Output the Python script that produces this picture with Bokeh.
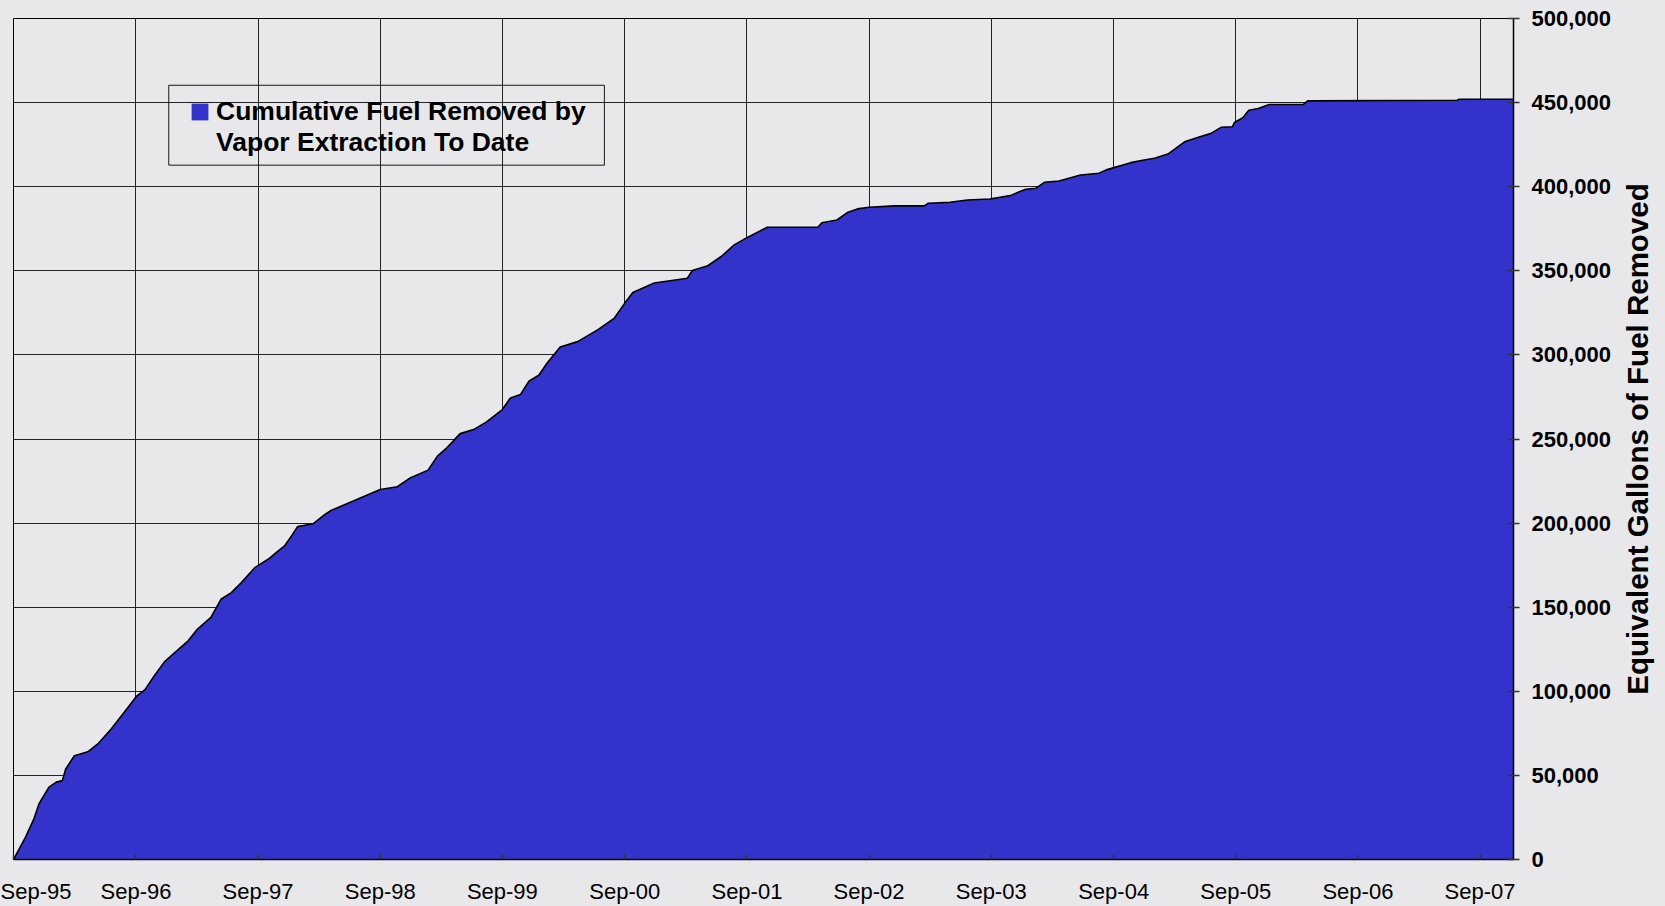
import pandas as pd
from bokeh.plotting import figure
from bokeh.layouts import row
from bokeh.models import (ColumnDataSource, FixedTicker, DatetimeTickFormatter,
                          NumeralTickFormatter, Range1d, Legend, LegendItem,
                          BoxAnnotation)
from bokeh.embed import file_html
from bokeh.resources import INLINE

# ---- data ----
dates = [
    "1995-09-01", "1995-10-07", "1995-11-01", "1995-11-16", "1995-12-16",
    "1996-01-07", "1996-01-25", "1996-02-04", "1996-03-01", "1996-04-10",
    "1996-05-10", "1996-06-19", "1996-07-28", "1996-09-04", "1996-09-28",
    "1996-10-25", "1996-11-25", "1997-01-01", "1997-02-04", "1997-03-04",
    "1997-04-13", "1997-05-13", "1997-06-13", "1997-07-13", "1997-08-22",
    "1997-10-01", "1997-10-25", "1997-11-19", "1997-12-10", "1997-12-28",
    "1998-02-12", "1998-03-19", "1998-04-07", "1998-09-01", "1998-10-22",
    "1998-12-01", "1999-01-22", "1999-02-19", "1999-03-19", "1999-04-28",
    "1999-06-07", "1999-07-16", "1999-09-01", "1999-09-25", "1999-10-25",
    "1999-11-19", "1999-12-19", "2000-01-13", "2000-02-21", "2000-04-13",
    "2000-06-13", "2000-08-01", "2000-09-01", "2000-09-25", "2000-11-28",
    "2001-03-07", "2001-03-22", "2001-05-07", "2001-06-16", "2001-07-25",
    "2001-09-01", "2001-11-01", "2002-04-01", "2002-04-13", "2002-05-28",
    "2002-06-28", "2002-07-28", "2002-09-01", "2002-11-16", "2003-02-13",
    "2003-02-25", "2003-05-01", "2003-06-22", "2003-08-28", "2003-10-28",
    "2003-12-13", "2004-01-13", "2004-02-07", "2004-03-22", "2004-05-25",
    "2004-07-19", "2004-08-10", "2004-10-22", "2004-12-01", "2005-01-01",
    "2005-02-10", "2005-04-01", "2005-05-10", "2005-06-19", "2005-07-19",
    "2005-08-22", "2005-08-28", "2005-09-22", "2005-10-10", "2005-11-07",
    "2005-12-10", "2006-03-22", "2006-04-04", "2007-06-25", "2007-07-01",
    "2007-12-10",
]
gallons = [
    0, 13300, 24200, 33000, 43000,
    46000, 46900, 53800, 61700, 64000,
    68700, 77600, 87500, 97300, 101000,
    109000, 117500, 124000, 130000, 137000,
    143900, 154700, 158700, 164600, 173500,
    178500, 182400, 186400, 192300, 197900,
    199600, 205000, 207500, 220000, 221600,
    227000, 231500, 239800, 244700, 253200,
    255600, 260200, 267500, 274400, 276400,
    284300, 287900, 295200, 304700, 307900,
    315000, 321900, 330800, 337100, 342700,
    345600, 350200, 353000, 358500, 365400,
    369700, 375900, 375900, 378600, 380200,
    384600, 386800, 387800, 388600, 388600,
    390200, 390800, 392100, 392700, 394700,
    398500, 399100, 402600, 403400, 407000,
    408000, 410000, 414300, 415900, 416900,
    419400, 426700, 429300, 431700, 435300,
    435600, 438200, 441000, 445500, 446500,
    448900, 448900, 451000, 451400, 452000,
    452000,
]
tick_dates = ["1995-09-01", "1996-09-01", "1997-09-01", "1998-09-01",
              "1999-09-01", "2000-09-01", "2001-09-01", "2002-09-01",
              "2003-09-01", "2004-09-01", "2005-09-01", "2006-09-01",
              "2007-09-01"]
y_ticks = [0, 50000, 100000, 150000, 200000, 250000, 300000, 350000,
           400000, 450000, 500000]
x_start, x_end = "1995-09-01", "2007-12-10"
y_max = 500000
series_label_lines = ["Cumulative Fuel Removed by", "Vapor Extraction To Date"]
y_title = "Equivalent Gallons of Fuel Removed"

FILL = "#3333CC"
BG = "#e8e8ea"
FONT = "Liberation Sans"


def ms(d):
    return pd.Timestamp(d).value / 1e6


x = pd.to_datetime(dates)
src = ColumnDataSource(dict(x=x, y=gallons, y0=[0] * len(gallons)))

p = figure(width=1617, height=906, x_axis_type="datetime",
           y_axis_location="right", output_backend="svg",
           toolbar_location=None,
           x_range=Range1d(ms(x_start), ms(x_end)),
           y_range=Range1d(0, y_max),
           min_border_left=13, min_border_top=18, min_border_bottom=45,
           min_border_right=104)

p.background_fill_color = BG
p.border_fill_color = BG
p.outline_line_color = "black"
p.outline_line_width = 1

area = p.varea(x="x", y1="y0", y2="y", source=src, fill_color=FILL)
p.line(x="x", y="y", source=src, line_color="black", line_width=1.6)

xt = FixedTicker(ticks=[ms(d) for d in tick_dates])
p.xaxis.ticker = xt
p.xgrid.ticker = xt
fmt = "%b-%y"
p.xaxis.formatter = DatetimeTickFormatter(years=fmt, months=fmt, days=fmt,
                                          hours=fmt, minutes=fmt)
yt = FixedTicker(ticks=y_ticks)
p.yaxis.ticker = yt
p.ygrid.ticker = yt
p.yaxis.formatter = NumeralTickFormatter(format="0,0")

for g in (p.xgrid, p.ygrid):
    g.grid_line_color = "black"
    g.grid_line_width = 1
    g.grid_line_alpha = 0.85

xa = p.xaxis[0]
xa.axis_line_color = "black"
xa.axis_line_width = 1.5
xa.major_tick_in = 5
xa.major_tick_out = 0
xa.major_tick_line_color = "#333333"
xa.major_tick_line_width = 1.5
xa.minor_tick_line_color = None
xa.major_label_text_font = FONT
xa.major_label_text_font_size = "22px"
xa.major_label_text_color = "black"
xa.major_label_standoff = 19

ya = p.yaxis[0]
ya.axis_line_color = "black"
ya.axis_line_width = 1.5
ya.major_tick_in = 6
ya.major_tick_out = 6
ya.major_tick_line_color = "#333333"
ya.major_tick_line_width = 1.5
ya.minor_tick_line_color = None
ya.major_label_text_font = FONT
ya.major_label_text_font_size = "22px"
ya.major_label_text_font_style = "bold"
ya.major_label_text_color = "black"
ya.major_label_standoff = 12

# legend frame
p.add_layout(BoxAnnotation(left=ms("1996-12-08"), right=ms("2000-07-02"),
                           top=460300, bottom=412800,
                           fill_alpha=0, line_color="black", line_width=1,
                           line_alpha=0.9))

legend = Legend(items=[LegendItem(label=series_label_lines[0], renderers=[area]),
                       LegendItem(label=series_label_lines[1], renderers=[])],
                location=(176, 701))
legend.border_line_color = None
legend.background_fill_alpha = 0
legend.label_text_font = FONT
legend.label_text_font_size = "26.5px"
legend.label_text_font_style = "bold"
legend.label_text_color = "black"
legend.label_height = 28
legend.spacing = 0
legend.padding = 0
legend.margin = 0
legend.glyph_width = 21
legend.glyph_height = 21
legend.label_standoff = 6
p.add_layout(legend, "center")

# narrow strip carrying the y-axis title (reads bottom-to-top like the reference)
t = figure(width=48, height=906, output_backend="svg", toolbar_location=None,
           x_range=Range1d(0, 1), y_range=Range1d(0, 1),
           min_border_left=46, min_border_right=0,
           min_border_top=18, min_border_bottom=45)
t.background_fill_color = BG
t.border_fill_color = BG
t.outline_line_color = None
t.xgrid.visible = False
t.ygrid.visible = False
t.xaxis.visible = False
ta = t.yaxis[0]
ta.ticker = FixedTicker(ticks=[])
ta.axis_line_color = None
ta.major_tick_line_color = None
ta.minor_tick_line_color = None
ta.axis_label = y_title
ta.axis_label_text_font = FONT
ta.axis_label_text_font_size = "29.5px"
ta.axis_label_text_font_style = "bold"
ta.axis_label_text_color = "black"
ta.axis_label_standoff = 11

layout = row(p, t, spacing=0, styles={"background-color": BG})
open("out.html", "w").write(file_html(layout, INLINE))
